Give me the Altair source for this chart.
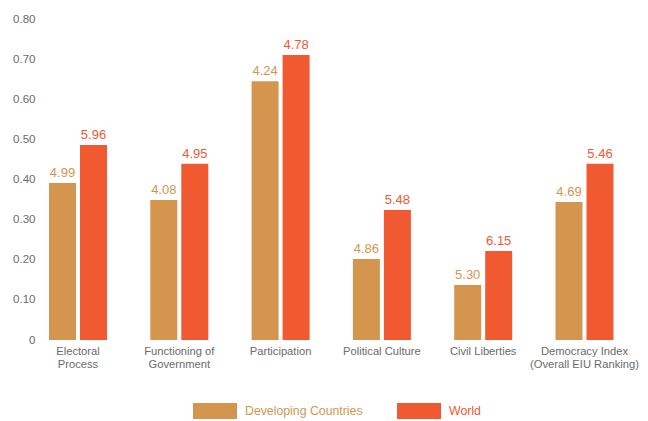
import altair as alt
import pandas as pd

categories = ["Electoral\nProcess", "Functioning of\nGovernment", "Participation",
              "Political Culture", "Civil Liberties", "Democracy Index\n(Overall EIU Ranking)"]
series = ["Developing Countries", "World"]
developing_values = [0.391, 0.349, 0.645, 0.202, 0.137, 0.344]
world_values = [0.486, 0.439, 0.710, 0.324, 0.222, 0.439]
developing_labels = ["4.99", "4.08", "4.24", "4.86", "5.30", "4.69"]
world_labels = ["5.96", "4.95", "4.78", "5.48", "6.15", "5.46"]
colors = ["#D4964F", "#F15A31"]
y_ticks = [0, 0.1, 0.2, 0.3, 0.4, 0.5, 0.6, 0.7, 0.8]

rows = []
for i, c in enumerate(categories):
    rows.append({"category": c, "series": series[0], "value": developing_values[i], "label": developing_labels[i]})
    rows.append({"category": c, "series": series[1], "value": world_values[i], "label": world_labels[i]})
df = pd.DataFrame(rows)

FONT = "Liberation Sans"
GRAY = "#6b6b6b"

x = alt.X("category:N", sort=categories,
          scale=alt.Scale(paddingInner=0.4274, paddingOuter=0.1086),
          axis=alt.Axis(title=None, labelAngle=0, domain=False, ticks=False, tickSize=0,
                        labelPadding=5, labelFont=FONT, labelFontSize=11.2, labelColor=GRAY,
                        labelExpr="split(datum.label, '\\n')", labelLineHeight=13.5,
                        labelBaseline="top", labelLimit=200))
xo = alt.XOffset("series:N", sort=series, scale=alt.Scale(paddingInner=0.129, paddingOuter=0))
y = alt.Y("value:Q", scale=alt.Scale(domain=[0, 0.8], nice=False),
          axis=alt.Axis(title=None, values=y_ticks, grid=False, domain=False, ticks=False,
                        tickSize=0, labelPadding=3, labelFont=FONT, labelFontSize=11.5,
                        labelColor=GRAY,
                        labelExpr="datum.value == 0 ? '0' : format(datum.value, '.2f')"))
color_scale = alt.Scale(domain=series, range=colors)

legend_label_color = {"expr": f"datum.value == '{series[1]}' ? '{colors[1]}' : '{colors[0]}'"}

bars = alt.Chart(df).mark_bar().encode(
    x=x, xOffset=xo, y=y,
    color=alt.Color("series:N", scale=color_scale, sort=series,
                    legend=alt.Legend(title=None, orient="none", legendX=169, legendY=384,
                                      direction="horizontal", padding=0,
                                      symbolType="M-2.75,-1H2.75V1H-2.75Z", symbolSize=256,
                                      symbolStrokeWidth=0, symbolOpacity=1,
                                      labelFont=FONT, labelFontSize=12.3, labelOffset=22,
                                      columnPadding=34, labelColor=legend_label_color))
)

text = alt.Chart(df).mark_text(baseline="bottom", dy=-3, font=FONT, fontSize=13).encode(
    x=x, xOffset=xo, y=y, text="label:N",
    color=alt.Color("series:N", scale=color_scale, sort=series, legend=None)
)

chart = alt.layer(bars, text).properties(
    width=586.5, height=321,
    padding={"left": 30, "top": 11, "right": 15, "bottom": 80},
    autosize=alt.AutoSizeParams(type="none"),
    background="white"
).configure_view(stroke=None)

chart.save("out.html", embed_options={"renderer": "svg", "actions": False})
